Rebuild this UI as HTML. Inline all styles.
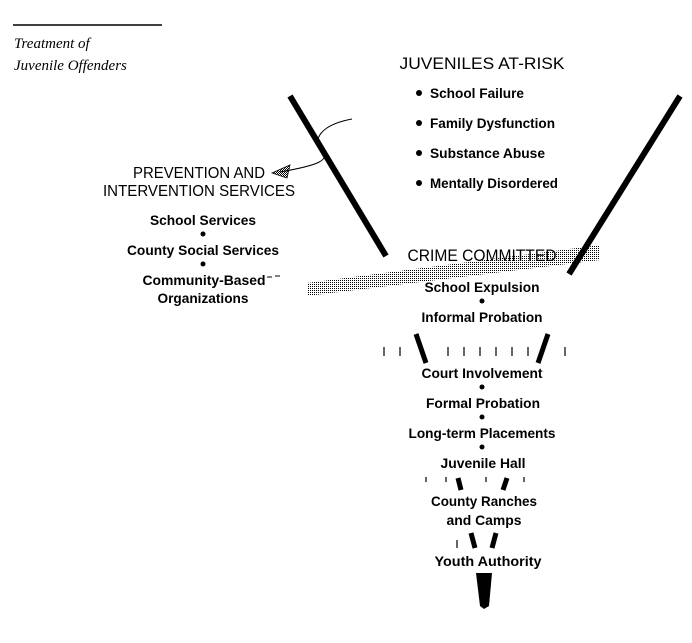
<!DOCTYPE html>
<html><head><style>body{margin:0;background:#fff}svg{display:block}text{font-family:"Liberation Sans",sans-serif;fill:#000;font-weight:bold}text.h{font-weight:normal}</style></head><body>
<svg width="692" height="643" viewBox="0 0 692 643" xmlns="http://www.w3.org/2000/svg">
<defs><pattern id="d" width="2" height="2" patternUnits="userSpaceOnUse"><rect width="1" height="1" fill="#000"/></pattern>
<pattern id="d2" width="2" height="2" patternUnits="userSpaceOnUse"><rect width="1" height="1" fill="#000"/><rect x="1" y="1" width="1" height="1" fill="#000"/></pattern></defs>
<line x1="13" y1="25" x2="162" y2="25" stroke="#000" stroke-width="1.5"/>
<text class="h" x="14" y="48" style="font-family:'Liberation Serif',serif;font-style:italic;font-size:15px">Treatment of</text>
<text class="h" x="14" y="70" style="font-family:'Liberation Serif',serif;font-style:italic;font-size:15px">Juvenile Offenders</text>
<polygon points="307,283 307,296 600,260 600,245" fill="url(#d)"/>
<line x1="290" y1="96" x2="386" y2="256" stroke="#000" stroke-width="6"/>
<line x1="680" y1="96" x2="569" y2="274" stroke="#000" stroke-width="6"/>
<path d="M352,119 C320,125 312,140 322,150 C330,160 320,165 280,172" fill="none" stroke="#000" stroke-width="1"/>
<polygon points="272,173 290,165 287,178" fill="url(#d2)" stroke="#000" stroke-width="0.8"/>
<g font-size="16" text-anchor="middle">
<text class="h" x="482" y="69" font-size="17" textLength="165" lengthAdjust="spacingAndGlyphs">JUVENILES AT-RISK</text>
<text class="h" x="482" y="261" font-size="17" textLength="149" lengthAdjust="spacingAndGlyphs">CRIME COMMITTED</text>
<text class="h" x="199" y="178" textLength="132" lengthAdjust="spacingAndGlyphs">PREVENTION AND</text>
<text class="h" x="199" y="196" textLength="192" lengthAdjust="spacingAndGlyphs">INTERVENTION SERVICES</text>
</g>
<g font-size="14">
<text x="430" y="98" textLength="94" lengthAdjust="spacingAndGlyphs">School Failure</text>
<text x="430" y="128" textLength="125" lengthAdjust="spacingAndGlyphs">Family Dysfunction</text>
<text x="430" y="158" textLength="115" lengthAdjust="spacingAndGlyphs">Substance Abuse</text>
<text x="430" y="188" textLength="128" lengthAdjust="spacingAndGlyphs">Mentally Disordered</text>
</g>
<g fill="#000"><circle cx="419" cy="93" r="3"/><circle cx="419" cy="123" r="3"/><circle cx="419" cy="153" r="3"/><circle cx="419" cy="183" r="3"/>
<circle cx="203" cy="234" r="2.5"/><circle cx="203" cy="264" r="2.5"/>
<circle cx="482" cy="301" r="2.5"/><circle cx="482" cy="387" r="2.5"/><circle cx="482" cy="417" r="2.5"/><circle cx="482" cy="447" r="2.5"/></g>
<g font-size="14" text-anchor="middle">
<text x="203" y="225" textLength="106" lengthAdjust="spacingAndGlyphs">School Services</text>
<text x="203" y="255" textLength="152" lengthAdjust="spacingAndGlyphs">County Social Services</text>
<text x="204" y="285" textLength="123" lengthAdjust="spacingAndGlyphs">Community-Based</text>
<text x="203" y="303" textLength="91" lengthAdjust="spacingAndGlyphs">Organizations</text>
<text x="482" y="292" textLength="115" lengthAdjust="spacingAndGlyphs">School Expulsion</text>
<text x="482" y="322" textLength="121" lengthAdjust="spacingAndGlyphs">Informal Probation</text>
<text x="482" y="378" textLength="121" lengthAdjust="spacingAndGlyphs">Court Involvement</text>
<text x="483" y="408" textLength="114" lengthAdjust="spacingAndGlyphs">Formal Probation</text>
<text x="482" y="438" textLength="147" lengthAdjust="spacingAndGlyphs">Long-term Placements</text>
<text x="483" y="468" textLength="85" lengthAdjust="spacingAndGlyphs">Juvenile Hall</text>
<text x="484" y="506" textLength="106" lengthAdjust="spacingAndGlyphs">County Ranches</text>
<text x="484" y="525" textLength="75" lengthAdjust="spacingAndGlyphs">and Camps</text>
<text x="488" y="566" textLength="107" lengthAdjust="spacingAndGlyphs">Youth Authority</text>
</g>
<path d="M267,277 h5 M275,276 h5" stroke="#000"/>
<g stroke="#000" stroke-width="1.2">
<path d="M384,347v9M400,347v9M448,347v9M464,347v9M480,347v9M496,347v9M512,347v9M528,347v9M565,347v9"/>
<path d="M426,477v5M446,477v5M486,477v5M524,477v5M457,540v8"/>
</g>
<g stroke="#000" stroke-width="5">
<line x1="416" y1="334" x2="426" y2="363"/><line x1="548" y1="334" x2="538" y2="363"/>
<line x1="458" y1="478" x2="461" y2="490"/><line x1="507" y1="478" x2="503" y2="490"/>
<line x1="471" y1="533" x2="475" y2="548"/><line x1="496" y1="533" x2="492" y2="548"/>
</g>
<polygon points="476,573 492,573 489,606 484,609 480,606" fill="#000"/>
</svg>
</body></html>
